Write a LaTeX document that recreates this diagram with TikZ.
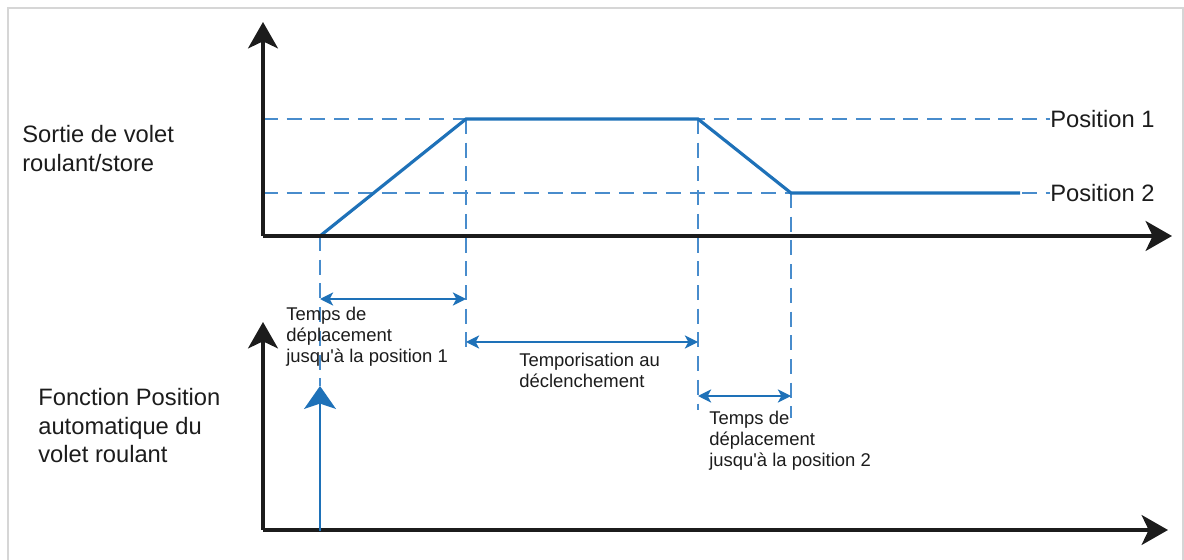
\documentclass[tikz,border=0pt]{standalone}
\usepackage{fontspec}
\setmainfont{Liberation Sans}
\usetikzlibrary{arrows.meta}

\definecolor{curveblue}{RGB}{30,113,184}
\definecolor{dashblue}{RGB}{72,140,204}
\definecolor{framegray}{RGB}{214,214,214}
\definecolor{axisblack}{RGB}{28,28,28}

\begin{document}
\begin{tikzpicture}[x=0.02cm,y=-0.02cm,
    axis/.style={line width=2pt,draw=axisblack,-{Stealth[length=15pt,width=17pt,inset=4pt]}},
    guide/.style={line width=0.9pt,draw=dashblue,dash pattern=on 8.5pt off 5pt},
    curve/.style={line width=1.8pt,draw=curveblue},
    span/.style={line width=0.9pt,draw=curveblue,{Stealth[length=7.5pt,width=7.5pt,inset=2pt]}-{Stealth[length=7.5pt,width=7.5pt,inset=2pt]}},
    biglabel/.style={anchor=base west,align=left,inner sep=0pt,text=axisblack,font=\fontsize{13.5}{16.4}\selectfont},
    smalllabel/.style={anchor=base west,align=left,inner sep=0pt,text=axisblack,font=\fontsize{10.5}{12.2}\selectfont},
    poslabel/.style={anchor=west,inner sep=0pt,text=axisblack,font=\fontsize{13.5}{15.5}\selectfont}]
            \useasboundingbox (0,0) rectangle (1184,560);
            \draw[line width=1.2pt,framegray] (8,560) -- (8,8) -- (1183,8) -- (1183,560);

            \coordinate (o1) at (263,236);
            \coordinate (o2) at (263,530);
            \coordinate (y1) at (263,22);
            \coordinate (x1) at (1172,236);
            \coordinate (y2) at (263,322);
            \coordinate (x2) at (1168,530);

            \coordinate (p0) at (320,236);
            \coordinate (p1) at (466,119);
            \coordinate (p2) at (698,119);
            \coordinate (p3) at (791,193);
            \coordinate (p4) at (1020,193);

            \node[poslabel] (pos1) at (1050,119) {Position 1};
            \node[poslabel] (pos2) at (1050,193) {Position 2};

            \draw[guide] (263,119) -- (pos1.west);
            \draw[guide] (263,193) -- (pos2.west);
            \draw[guide] (p0) -- (320,386);
            \draw[guide] (p1) -- (466,348);
            \draw[guide] (p2) -- (698,410);
            \draw[guide] (p3) -- (791,418);

            \draw[curve] (p0) -- (p1) -- (p2) -- (p3) -- (p4);

            \draw[axis] (o1) -- (y1);
            \draw[axis] (o1) -- (x1);
            \draw[axis] (o2) -- (y2);
            \draw[axis] (o2) -- (x2);

            \coordinate (trig) at (320,531);
            \coordinate (trigtop) at (320,386);
            \draw[line width=1.7pt,curveblue,-{Stealth[length=13pt,width=18pt,inset=3pt]}] (trig) -- (trigtop);

            \coordinate (a1) at (320,299);
            \coordinate (b1) at (466,299);
            \coordinate (a2) at (466,342);
            \coordinate (b2) at (698,342);
            \coordinate (a3) at (698,396);
            \coordinate (b3) at (791,396);
            \draw[span] (a1) -- (b1);
            \draw[span] (a2) -- (b2);
            \draw[span] (a3) -- (b3);

            \node[biglabel] (sortie) at (22,171.5) {Sortie de volet\\roulant/store};
            \node[biglabel] (fonction) at (38,463) {Fonction Position\\automatique du\\volet roulant};
            \node[smalllabel] (move1) at (286,363) {Temps de\\déplacement\\jusqu\textquotesingle à la position 1};
            \node[smalllabel] (delay) at (519,388) {Temporisation au\\déclenchement};
            \node[smalllabel] (move2) at (709,467) {Temps de\\déplacement\\jusqu\textquotesingle à la position 2};
         \end{tikzpicture}
\end{document}
